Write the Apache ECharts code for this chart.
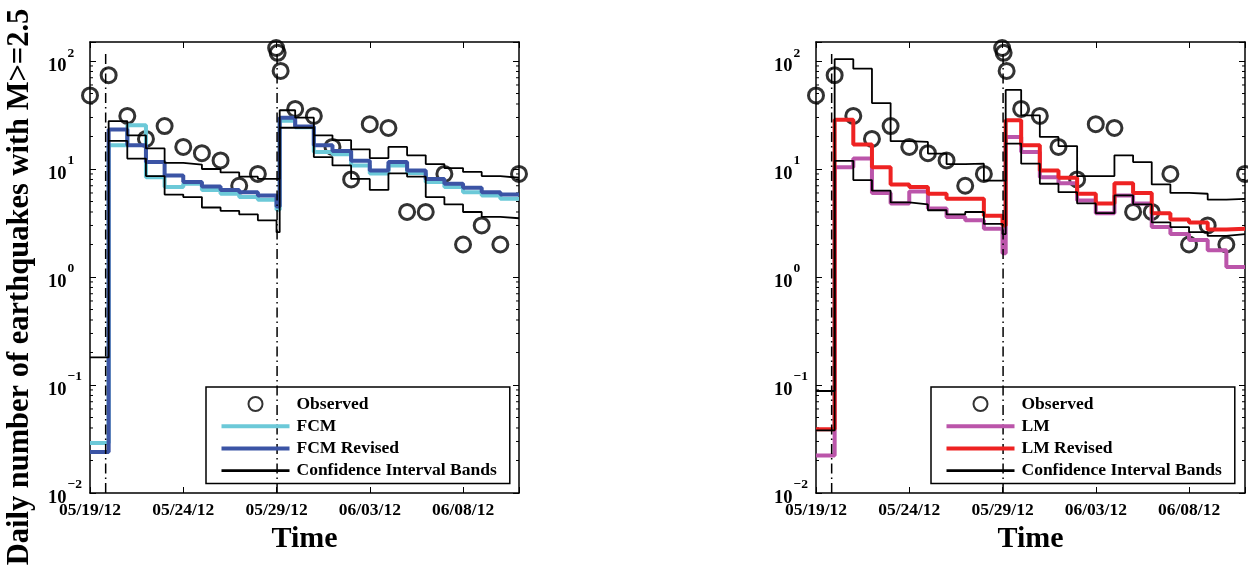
<!DOCTYPE html>
<html>
<head>
<meta charset="utf-8">
<script src="https://cdn.jsdelivr.net/npm/echarts@6/dist/echarts.min.js"></script>
<style>
  html, body { margin: 0; padding: 0; background: #fff; }
  #chart { width: 1248px; height: 574px; }
</style>
</head>
<body>
<div id="chart"></div>
<script>
// x is in days since 05/19/12
const xTickLabels = ['05/19/12', '05/24/12', '05/29/12', '06/03/12', '06/08/12']
const dayEnd = 23
const eventDays = [0.84, 10.03]
const eventTop = 120

const obsDays = [0, 1, 2, 3, 4, 5, 6, 7, 8, 9, 9.98, 10.06, 10.22, 11, 12, 13, 14, 15, 16, 17, 18, 19, 20, 21, 22, 23]
const obsCounts = [48, 74, 31, 19, 25, 16, 14, 12, 7, 9, 132, 119, 81, 36, 31, 16, 8, 26, 24, 4, 4, 9, 2, 3, 2, 9]

// start day of each forecast step
const stepStarts = [0, 1, 2, 3, 4, 5, 6, 7, 8, 9, 10, 10.17, 11, 12, 13, 14, 15, 16, 17, 18, 19, 20, 21, 22]

const fcm = [0.029, 16.6, 25.4, 8.4, 6.8, 7.3, 6.4, 5.9, 5.5, 5.2, 4.2, 28, 24.3, 14.4, 13.7, 10.8, 9.1, 10.8, 9.2, 7.6, 6.8, 6.1, 5.7, 5.3]
const fcmRevised = [0.024, 23.2, 16.6, 11.6, 8.7, 7.6, 6.9, 6.4, 6.1, 5.7, 4.5, 29.9, 24.8, 16.6, 14.7, 11.9, 9.7, 11.6, 9.7, 8.1, 7.3, 6.7, 6.1, 5.8]
const fcmUpper = [0.18, 27.8, 20.5, 15.5, 11.4, 11.0, 10.0, 9.3, 8.5, 8.1, 8.1, 35, 29.9, 20.5, 18.5, 15.2, 12.6, 16.0, 13.4, 11.1, 10.2, 9.4, 8.6, 8.3]
const fcmLower = [null, 18.2, 12.5, 8.6, 5.8, 5.5, 4.4, 4.1, 3.8, 3.35, 2.6, 24.1, 24.1, 12.9, 10.8, 8.1, 6.4, 9.1, 8.5, 5.5, 4.7, 4.0, 3.6, 3.5]

const lm = [0.0223, 10.4, 12.5, 6.0, 4.8, 6.2, 4.3, 3.6, 3.35, 2.8, 1.66, 19.8, 14.4, 8.4, 7.4, 5.1, 3.9, 5.7, 4.8, 2.9, 2.5, 2.2, 1.77, 1.24]
const lmRevised = [0.039, 28.6, 16.9, 10.4, 7.2, 6.8, 5.9, 5.3, 5.3, 3.7, 3.0, 28.3, 16.6, 9.7, 8.3, 5.9, 4.8, 7.4, 6.0, 3.9, 3.4, 3.2, 2.75, 2.8]
const lmUpper = [0.088, 104, 85, 40.8, 18.1, 17.8, 13.9, 11.1, 11.2, 7.8, 7.8, 54, 31.4, 19.8, 16.3, 8.6, 8.6, 13.4, 11.6, 7.2, 6.0, 5.9, 5.2, 5.3]
const lmLower = [0.038, 11.9, 7.9, 6.3, 4.9, 4.7, 4.15, 3.8, 4.0, 3.1, 2.5, 17.2, 11.2, 7.3, 6.1, 4.8, 3.9, 5.7, 4.7, 3.2, 2.9, 2.6, 2.4, 2.5]

// minor ticks of the log axis
const decades = [0.01, 0.1, 1, 10]
const minorSteps = [2, 3, 4, 5, 6, 7, 8, 9]

const font = 'Liberation Serif'
const chart = echarts.init(document.getElementById('chart'))

function stepData(vals) {
  const pts = stepStarts.map((t, i) => [t, vals[i]])
  pts.push([dayEnd, vals[vals.length - 1]])
  return pts
}

function powLabel(v) {
  const e = Math.log10(v)
  const r = Math.round(e)
  if (Math.abs(e - r) > 1e-6) return ''
  return '{b|10}{e|' + (r < 0 ? '\u2212' + (-r) : r) + '}'
}

const minorData = []
decades.forEach(d => minorSteps.forEach(m => minorData.push([0, m * d])))

function xAxes(g) {
  const line = { show: true, onZero: false, lineStyle: { color: '#000', width: 1.5 } }
  return [
    {
      gridIndex: g, type: 'value', min: 0, max: dayEnd, interval: 5,
      axisLine: line,
      axisTick: { inside: true, length: 6, lineStyle: { color: '#000', width: 1 } },
      axisLabel: {
        formatter: v => (v % 5 === 0 ? xTickLabels[v / 5] : ''),
        fontFamily: font, fontSize: 17.5, fontWeight: 'bold', color: '#000', margin: 8
      },
      splitLine: { show: false },
      name: 'Time', nameLocation: 'middle', nameGap: 29,
      nameTextStyle: { fontFamily: font, fontSize: 30, fontWeight: 'bold', color: '#000' }
    },
    {
      gridIndex: g, type: 'value', position: 'top', min: 0, max: dayEnd, interval: 5,
      axisLine: line,
      axisTick: { inside: true, length: 6, lineStyle: { color: '#000', width: 1 } },
      axisLabel: { show: false },
      splitLine: { show: false }
    }
  ]
}

function yAxes(g) {
  const line = { show: true, onZero: false, lineStyle: { color: '#000', width: 1.5 } }
  return [
    {
      gridIndex: g, type: 'log', logBase: 10, min: 0.01, max: 150,
      axisLine: line,
      axisTick: { inside: true, length: 6, lineStyle: { color: '#000', width: 1 } },
      axisLabel: {
        formatter: powLabel, align: 'left', margin: 42,
        rich: {
          b: { fontFamily: font, fontSize: 18.5, fontWeight: 'bold', color: '#000', lineHeight: 20, padding: [10, 0, 0, 0] },
          e: { fontFamily: font, fontSize: 13.5, fontWeight: 'bold', color: '#000', lineHeight: 14, padding: [0, 0, 16, 1] }
        }
      },
      splitLine: { show: false }
    },
    {
      gridIndex: g, type: 'log', logBase: 10, min: 0.01, max: 150, position: 'right',
      axisLine: line,
      axisTick: { inside: true, length: 6, lineStyle: { color: '#000', width: 1 } },
      axisLabel: { show: false },
      splitLine: { show: false }
    }
  ]
}

function panelSeries(ax, modelName, modelVals, modelColor, revName, revVals, revColor, upper, lower) {
  const band = { color: '#000', width: 1.8 }
  const list = [
    {
      name: 'Observed', type: 'scatter', xAxisIndex: ax, yAxisIndex: ax,
      data: obsDays.map((d, i) => [d, obsCounts[i]]),
      symbol: 'circle', symbolSize: 15, clip: false,
      itemStyle: { color: 'rgba(0,0,0,0)', borderColor: '#000', borderWidth: 3 }
    },
    {
      name: modelName, type: 'line', step: 'end', xAxisIndex: ax, yAxisIndex: ax,
      data: stepData(modelVals), symbol: 'none',
      lineStyle: { color: modelColor, width: 4 }, itemStyle: { color: modelColor }
    },
    {
      name: revName, type: 'line', step: 'end', xAxisIndex: ax, yAxisIndex: ax,
      data: stepData(revVals), symbol: 'none',
      lineStyle: { color: revColor, width: 4 }, itemStyle: { color: revColor }
    },
    {
      name: 'Confidence Interval Bands', type: 'line', step: 'end', xAxisIndex: ax, yAxisIndex: ax,
      data: stepData(upper), symbol: 'none', lineStyle: band, itemStyle: { color: '#000' }
    },
    {
      name: 'Confidence Interval Bands', type: 'line', step: 'end', xAxisIndex: ax, yAxisIndex: ax,
      data: stepData(lower), symbol: 'none', lineStyle: band, itemStyle: { color: '#000' }
    },
    {
      name: 'minor', type: 'custom', xAxisIndex: ax, yAxisIndex: ax, data: minorData,
      renderItem: (params, api) => {
        const cs = params.coordSys
        const y = api.coord([api.value(0), api.value(1)])[1]
        return {
          type: 'group',
          children: [
            { type: 'line', shape: { x1: cs.x, y1: y, x2: cs.x + 3, y2: y }, style: { stroke: '#000', lineWidth: 1 } },
            { type: 'line', shape: { x1: cs.x + cs.width, y1: y, x2: cs.x + cs.width - 3, y2: y }, style: { stroke: '#000', lineWidth: 1 } }
          ]
        }
      }
    }
  ]
  eventDays.forEach(d => {
    list.push({
      name: 'event', type: 'line', xAxisIndex: ax, yAxisIndex: ax,
      data: [[d, 0.01], [d, eventTop]], symbol: 'none',
      lineStyle: { color: '#000', width: 1.5, type: [10, 4, 1.5, 4] }
    })
  })
  return list
}

function legendFor(left, names, colors) {
  const noMark = { opacity: 0 }
  return {
    orient: 'vertical', left: left, top: 387,
    data: [
      { name: names[0] },
      { name: names[1], itemStyle: noMark, lineStyle: { width: 4, color: colors[0] } },
      { name: names[2], itemStyle: noMark, lineStyle: { width: 4, color: colors[1] } },
      { name: names[3], itemStyle: noMark, lineStyle: { width: 2.8, color: '#000' } }
    ],
    selectedMode: false,
    itemWidth: 68, itemHeight: 14, itemGap: 4.2,
    padding: [8, 13, 4, 13.5],
    borderColor: '#000', borderWidth: 1.5,
    textStyle: { fontFamily: font, fontSize: 17.5, fontWeight: 'bold', color: '#000', padding: [0, 0, 0, 2] }
  }
}

chart.setOption({
  animation: false,
  backgroundColor: '#fff',
  grid: [
    { left: 90, top: 42, width: 429, height: 451 },
    { left: 816, top: 42, width: 429, height: 451 }
  ],
  xAxis: [...xAxes(0), ...xAxes(1)],
  yAxis: [...yAxes(0), ...yAxes(1)],
  legend: [
    legendFor(206, ['Observed', 'FCM', 'FCM Revised', 'Confidence Interval Bands'], ['#6cc9d8', '#3b54a5']),
    legendFor(931, ['Observed', 'LM', 'LM Revised', 'Confidence Interval Bands'], ['#bb55aa', '#ee2222'])
  ],
  graphic: [{
    type: 'text', x: 20, y: 287, rotation: Math.PI / 2,
    style: {
      text: 'Daily number of earthquakes with M>=2.5',
      font: 'bold 30.5px "Liberation Serif"',
      fill: '#000', align: 'center', verticalAlign: 'middle'
    }
  }],
  series: [
    ...panelSeries(0, 'FCM', fcm, '#6cc9d8', 'FCM Revised', fcmRevised, '#3b54a5', fcmUpper, fcmLower),
    ...panelSeries(2, 'LM', lm, '#bb55aa', 'LM Revised', lmRevised, '#ee2222', lmUpper, lmLower)
  ]
})
</script>
</body>
</html>
